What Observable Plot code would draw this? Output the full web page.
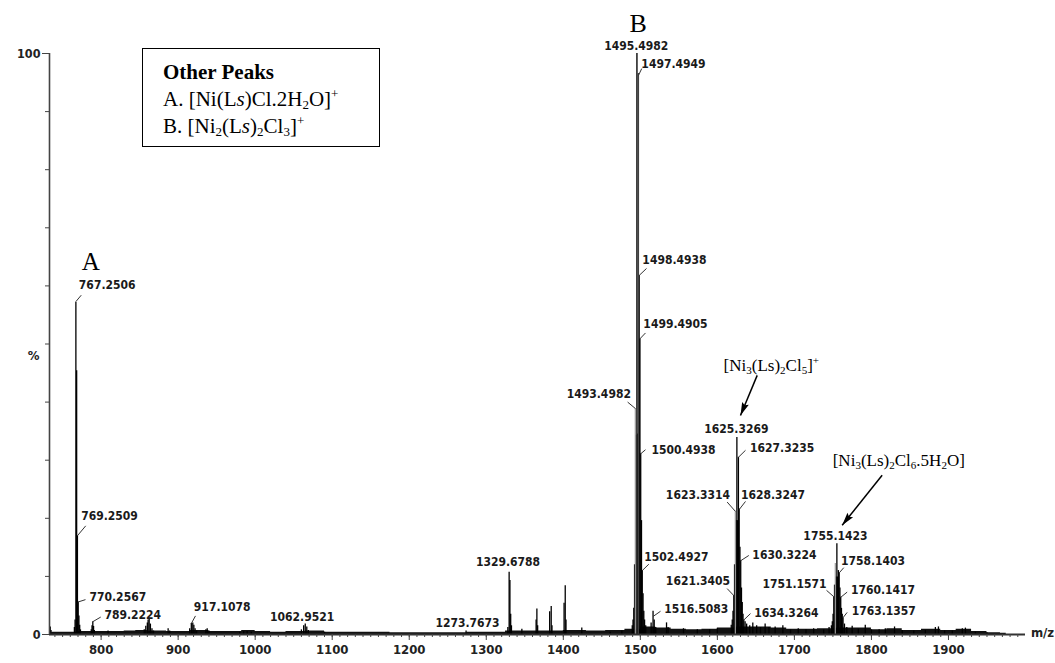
<!DOCTYPE html>
<html><head><meta charset="utf-8">
<script src="https://cdn.jsdelivr.net/npm/d3@7"></script>
<script src="https://cdn.jsdelivr.net/npm/@observablehq/plot@0.6"></script>
<style>
html,body{margin:0;padding:0;background:#fff;}
#wrap{position:relative;width:1055px;height:663px;overflow:hidden;}
#legend{position:absolute;left:142px;top:48px;width:238px;height:99px;border:1.6px solid #000;box-sizing:border-box;
  font-family:"Liberation Serif","Times New Roman",serif;font-size:21px;line-height:27px;padding:10px 0 0 20px;color:#000;background:#fff;}
#legend sub{font-size:62%;vertical-align:-0.25em;line-height:0}
#legend sup{font-size:62%;vertical-align:0.6em;line-height:0}
</style></head>
<body>
<div id="wrap"><div id="chart"></div>
<div id="legend"><b>Other Peaks</b><br>A. [Ni(L<i>s</i>)Cl.2H<sub>2</sub>O]<sup>+</sup><br>B. [Ni<sub>2</sub>(L<i>s</i>)<sub>2</sub>Cl<sub>3</sub>]<sup>+</sup></div>
</div>
<script>
// ---------- data: spectrum sticks [m/z, relative intensity %] ----------
const clusterA = [[765.3,1.2],[766.2,2.5],[767.25,57.2],[768.25,45.4],[769.25,17.0],[770.26,5.6],[771.2,3.2],[772.2,1.6],[773.2,0.8]];
const lowMass = [[734,1.3],[787.2,0.8],[788.2,1.5],[789.22,2.2],[790.2,1.4],[791.2,0.7],[809,0.6],
  [856,0.8],[858,1.4],[860,2.0],[861,2.5],[862.4,2.6],[864,1.8],[866,1.0],[868,0.6],[887,1.0],[889,0.6],
  [915,1.0],[917.1,1.9],[919,2.0],[920.4,1.6],[922,1.0],[924,0.6],[936,0.8],[937.7,1.0],[940,0.6],
  [980,0.4],[985,0.5],[989.6,0.5],[995,0.4],[1060,0.8],[1062.95,1.5],[1065,1.8],[1067,1.3],[1069,0.7],[1090,0.4],[1273.77,0.6]];
const midMass = [[1328,1.2],[1329.68,10.7],[1330.7,9.3],[1331.7,3.5],[1332.7,1.5],[1346.2,0.9],
  [1364.7,2.5],[1365.7,4.4],[1366.7,1.5],[1382.3,3.9],[1384.3,4.8],[1385.3,1.5],
  [1401,5.4],[1402.5,8.4],[1403.5,2.5],[1424,1.1],[1460.9,0.4],[1476,0.6]];
const clusterB = [[1489.5,1.5],[1490.5,2.5],[1491.5,4.5],[1492.5,12],[1494.5,34.3],[1495.5,100],[1496.5,34.5],
  [1497.49,96.5],[1498.49,61.8],[1499.49,50.9],[1500.49,31.1],[1501.5,19.6],[1502.49,11],[1503.5,7],[1504.5,4],[1505.5,2.5],[1507,1.5]];
const between = [[1514,2],[1516.5,4],[1518,2.5],[1520,1.2],[1534,2],[1536,1.2],[1556,1],[1574,0.8],[1590,0.8],[1600,1.0]];
const cluster1625 = [[1618,1.6],[1619.3,2.5],[1620.3,4],[1621.34,6.7],[1622.3,12],[1624.3,19.6],[1625.33,33.9],[1626.3,19.6],
  [1627.32,30.5],[1628.32,21.6],[1629.3,15],[1630.32,12.7],[1631.3,8],[1632.3,5.5],[1633.3,3.5],[1634.33,2.5],[1636,2.2],[1638,1.8],
  [1642,1.5],[1646,2.0],[1651,1.5],[1656,1.2],[1662,1.8],[1667,1.2],[1675,1.3],[1685,1.5],[1695,0.8],[1705,1.0],[1715,0.8],[1725,1.0],[1738,0.8],[1745,1.2]];
const cluster1755 = [[1748,1.5],[1749.2,2.2],[1750.2,3.5],[1751.16,6.5],[1752.1,8.5],[1754.1,9.9],[1755.14,15.6],[1756.1,9.9],
  [1757.1,11],[1758.14,10.6],[1759.1,8],[1760.14,6.4],[1761.1,4.5],[1762.1,3.5],[1763.14,2.9],[1765,1.8],[1768,1.2]];
const highMass = [[1775,1.4],[1783,0.9],[1792,1.6],[1800,0.8],[1810,0.8],[1818,1.0],[1830,1.3],[1840,0.7],[1855,0.6],[1870,0.7],
  [1883,1.2],[1887,1.3],[1895,0.6],[1905,0.6],[1918,1.0],[1922,1.1],[1935,0.4],[1950,0.3]];
// thin grey isotope tops
const greyPeaks = [[1493.5,38.9],[1623.33,21.2],[1753.1,12.2]];
// baseline noise envelope
const baseline = [[733,0.7],[740,0.4],[760,0.4],[780,0.5],[800,0.5],[820,0.5],[840,0.6],[850,0.7],[870,0.6],[900,0.5],[930,0.7],[950,0.5],
  [975,0.5],[990,0.7],[1010,0.5],[1030,0.4],[1050,0.5],[1080,0.6],[1100,0.4],[1150,0.4],[1200,0.3],[1250,0.3],[1300,0.4],[1350,0.6],
  [1380,0.6],[1420,0.7],[1440,0.6],[1470,0.7],[1490,0.9],[1510,1.3],[1530,1.1],[1550,0.9],[1570,0.8],[1590,0.9],[1610,1.1],[1640,1.3],
  [1660,1.3],[1680,1.1],[1700,0.9],[1720,0.9],[1740,1.0],[1770,1.1],[1790,1.1],[1810,0.8],[1830,1.0],[1850,0.7],[1880,0.9],[1900,0.7],
  [1920,0.9],[1940,0.5],[1960,0.3],[1975,0.2]];

// ---------- peak labels: text, label position (m/z, %), leader (peak m/z, %, end m/z, %) ----------
const labelText = ["767.2506","769.2509","770.2567","789.2224","917.1078","1062.9521","1273.7673","1329.6788",
  "1495.4982","1497.4949","1498.4938","1499.4905","1493.4982","1500.4938","1502.4927","1516.5083",
  "1625.3269","1627.3235","1623.3314","1628.3247","1630.3224","1621.3405","1634.3264",
  "1755.1423","1758.1403","1751.1571","1760.1417","1763.1357"];
const labelMz = [807.9,810.9,821.7,841.1,957.2,1061.0,1275.6,1328.2, 1494.7,1543.0,1544.3,1545.6,1446.1,1556.0,1546.7,1572.6,
  1624.6,1684.1,1574.8,1672.2,1687.1,1574.8,1689.5, 1753.3,1802.0,1700.1,1815.0,1816.0];
const labelPct = [60.1,20.3,6.5,3.4,4.7,3.0,1.9,12.4, 101.3,98.2,64.4,53.4,41.3,31.8,13.3,4.4,
  35.4,32.0,23.9,23.9,13.6,9.2,3.6, 17.0,12.7,8.7,7.6,4.1];
const leaders = [[767.25,57.3,774.2,58.4],[769.25,17.0,780.0,18.7],[770.26,5.6,779.7,6.0],[789.22,2.2,799.5,3.0],[917.1,1.9,922.5,3.2],
  [1497.49,96.2,1501.8,97.4],[1498.49,61.8,1508.0,63.0],[1499.49,50.9,1506.7,51.9],[1493.5,38.9,1483.5,40.0],[1500.49,31.1,1506.7,31.8],
  [1502.49,11.0,1511.0,12.1],[1516.5,3.1,1526.2,4.0],[1627.32,30.5,1636.5,31.7],[1623.33,21.2,1612.7,22.8],[1628.32,21.5,1636.5,22.9],
  [1630.32,12.7,1640.8,13.6],[1621.34,6.7,1612.7,7.9],[1634.33,2.5,1643.0,3.6],[1758.14,10.6,1764.1,11.5],[1751.16,6.5,1741.7,7.6],
  [1760.14,6.4,1768.5,7.3],[1763.14,2.9,1768.5,3.8]];

// ---------- annotations ----------
const annText = ["A","B","[Ni_3(Ls)_2Cl_5]^+","[Ni_3(Ls)_2Cl_6.5H_2O]"];
const annMz = [786.6,1497.2,1670.0,1835.5];
const annPct = [64.1,105.1,46.3,30.0];
const annSize = [25,26,17,17];
const arrows = [[1651.7,44.6,1630.0,37.7],[1813.9,27.4,1762.0,18.8]];

// ---------- axes ----------
const xDomain = [733,2000];
const yDomain = [0,100];
const xMajor = [800,900,1000,1100,1200,1300,1400,1500,1600,1700,1800,1900];
const xMinor = d3.range(740,2000,10);
const yTicks = [0,10,20,30,40,50,60,70,80,90,100];
const yLabels = [0,100];
const yUnit = {text:"%", pct:48};
const xUnit = {text:"m/z", mz:2007};

const W = 1055, H = 663, mL = 49, mR = 30, mT = 53, mB = 29;
const sx = Plot.scale({x:{domain:xDomain, range:[mL, W-mR]}});
const sy = Plot.scale({y:{domain:yDomain, range:[H-mB, mT]}});
const arrowAngle = d => Math.atan2(sx.apply(d[2])-sx.apply(d[0]), -(sy.apply(d[3])-sy.apply(d[1]))) * 180/Math.PI;
// filled arrowhead symbol: tip at origin, pointing up
const headSymbol = {draw(ctx){ ctx.moveTo(0,0); ctx.lineTo(-3.6,13); ctx.lineTo(0,11); ctx.lineTo(3.6,13); ctx.closePath(); }};

const sticks = [...clusterA,...lowMass,...midMass,...clusterB,...between,...cluster1625,...cluster1755,...highMass];
const labels = labelText.map((t,i)=>({t, x:labelMz[i], y:labelPct[i]}));
const anns = annText.map((t,i)=>({t, x:annMz[i], y:annPct[i], s:annSize[i]}));
const lblFont = '"DejaVu Sans Condensed","DejaVu Sans",sans-serif';
const serif = '"Liberation Serif","Times New Roman",serif';

const chart = Plot.plot({
  width:W, height:H,
  marginLeft:mL, marginRight:mR, marginTop:mT, marginBottom:mB,
  x:{domain:xDomain}, y:{domain:yDomain},
  style:{background:"#fff", overflow:"visible", fontFamily:lblFont},
  marks:[
    Plot.areaY(baseline,{x:d=>d[0], y:d=>d[1], fill:"#111", curve:"step"}),
    Plot.ruleX(sticks,{x:d=>d[0], y1:0, y2:d=>d[1], stroke:"#000", strokeWidth:1.3}),
    Plot.ruleX(greyPeaks,{x:d=>d[0], y1:0, y2:d=>d[1], stroke:"#999", strokeWidth:1.2}),
    Plot.ruleX(clusterB.filter(d=>d[1]>90),{x:d=>d[0], y1:0, y2:d=>d[1], stroke:"#444", strokeWidth:1.1}),
    // axes
    Plot.ruleY([0],{stroke:"#333", strokeWidth:2}),
    Plot.ruleX([xDomain[0]],{y1:0, y2:100, stroke:"#444", strokeWidth:1.6}),
    Plot.axisX({ticks:xMinor, tickSize:3, tickFormat:()=>"", stroke:"#444"}),
    Plot.axisX({ticks:xMajor, tickSize:6, tickPadding:4, tickFormat:d=>String(d), fontSize:13, fontWeight:"bold", fill:"#222", stroke:"#444", label:null}),
    Plot.axisY({ticks:yTicks, tickSize:4, tickFormat:()=>"", stroke:"#444"}),
    Plot.axisY({ticks:yLabels, tickSize:7, tickPadding:2, tickFormat:d=>String(d), fontSize:12.5, fontWeight:"bold", fill:"#222", stroke:"#444", label:null}),
    Plot.text([yUnit],{x:xDomain[0], y:"pct", text:"text", dx:-16, fontSize:13, fontWeight:"bold", fill:"#222"}),
    Plot.text([xUnit],{x:"mz", y:0, text:"text", textAnchor:"start", dy:-2, fontSize:13, fontWeight:"bold", fill:"#222"}),
    // peak labels
    Plot.link(leaders,{x1:d=>d[0], y1:d=>d[1], x2:d=>d[2], y2:d=>d[3], stroke:"#333", strokeWidth:1}),
    Plot.text(labels,{x:"x", y:"y", text:"t", fontSize:12, fontWeight:"bold", fill:"#1a1a1a"}),
    // annotations
    Plot.text(anns,{x:"x", y:"y", text:"t", fontSize:d=>d.s, fontFamily:serif, fill:"#000"}),
    Plot.link(arrows,{x1:d=>d[0], y1:d=>d[1], x2:d=>d[2], y2:d=>d[3], stroke:"#000", strokeWidth:1.5}),
    Plot.dot(arrows,{x:d=>d[2], y:d=>d[3], symbol:headSymbol, r:4, fill:"#000", stroke:"none", rotate:arrowAngle})
  ]
});
document.getElementById("chart").appendChild(chart);

// sub/superscript rendering for formula texts
d3.select(chart).selectAll("text").each(function(){
  const el=this, s=el.textContent;
  if(!/[_^]/.test(s)) return;
  el.textContent="";
  const parts=[]; let i=0;
  while(i<s.length){
    const c=s[i];
    if(c==="_"||c==="^"){ parts.push({t:s[i+1], k:c}); i+=2; }
    else { let j=i; while(j<s.length && s[j]!=="_" && s[j]!=="^") j++; parts.push({t:s.slice(i,j), k:""}); i=j; }
  }
  let shift=0;
  for(const p of parts){
    const ts=document.createElementNS("http://www.w3.org/2000/svg","tspan");
    const target = p.k==="_"?3:p.k==="^"?-7:0;
    if(target!==shift){ ts.setAttribute("dy", target-shift); shift=target; }
    if(p.k) ts.setAttribute("font-size","65%");
    ts.textContent=p.t;
    el.appendChild(ts);
  }
});
</script>
</body></html>
